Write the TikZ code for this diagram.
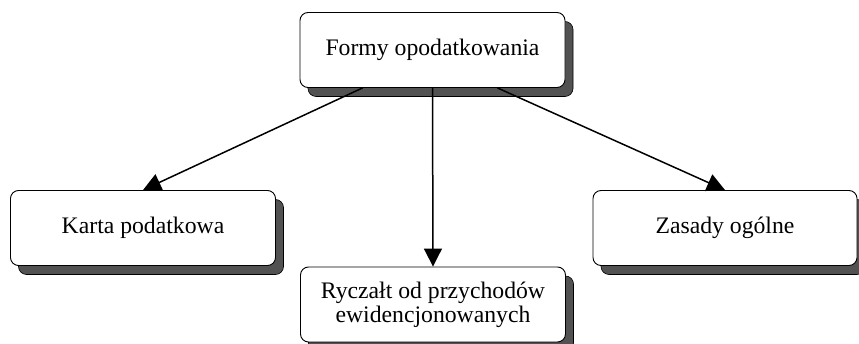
\documentclass[tikz,border=0pt]{standalone}
\usepackage{fontspec}
\setmainfont{Liberation Serif}
\usetikzlibrary{arrows.meta,shadows}
\begin{document}
\begin{tikzpicture}[
    x=1pt, y=-1pt,
    box/.style={draw, line width=0.9pt, fill=white, rounded corners=8pt,
        minimum width=265pt, minimum height=75pt, align=center, inner sep=0pt,
        font=\fontsize{23.7}{24}\selectfont,
        drop shadow={shadow xshift=8pt, shadow yshift=-9pt, fill=black!68,
            draw=black, line width=0.6pt, opacity=1}},
    link/.style={line width=1.5pt, -{Triangle[length=18pt, width=18pt]}},
]
    \useasboundingbox (0,0) rectangle (859,344);

    % Boxes
    \node[box] (forms) at (432.5, 50) {Formy opodatkowania};
    \node[box] (card) at (143, 228) {Karta podatkowa};
    \node[box] (lump) at (433, 304.5) {Ryczałt od przychodów\\ewidencjonowanych};
    \node[box, minimum width=264pt] (general) at (725, 228) {Zasady ogólne};

    % Arrows
    \draw[link] ([xshift=-70pt]forms.south) -- (card.north);
    \draw[link] (forms.south) -- (lump.north);
    \draw[link] ([xshift=65pt]forms.south) -- (general.north);
\end{tikzpicture}
\end{document}
